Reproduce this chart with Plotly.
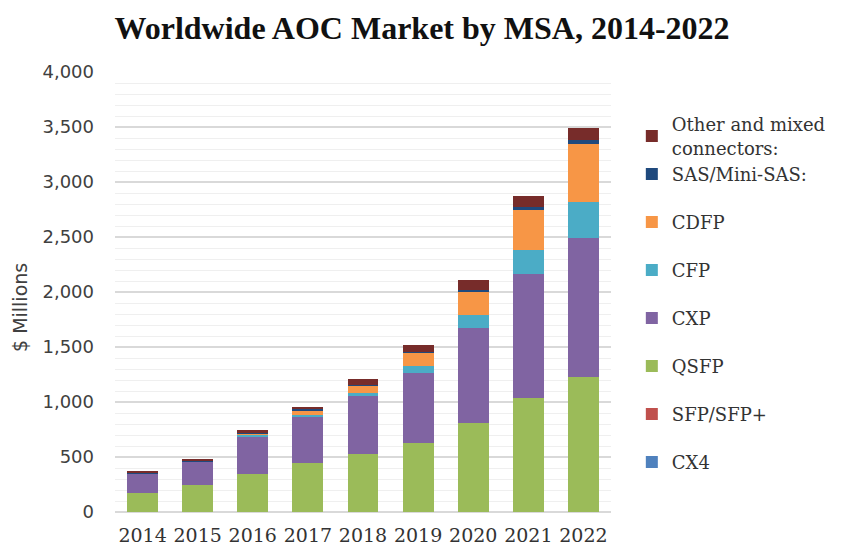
import plotly.graph_objects as go

years = ["2014", "2015", "2016", "2017", "2018", "2019", "2020", "2021", "2022"]

cx4 = [0, 0, 0, 0, 0, 0, 0, 0, 0]
sfp = [0, 0, 0, 0, 0, 0, 0, 0, 0]
qsfp = [176, 242, 348, 445, 527, 624, 812, 1033, 1224]
cxp = [176, 216, 337, 416, 528, 637, 858, 1131, 1270]
cfp = [0, 2, 18, 21, 24, 66, 121, 218, 327]
cdfp = [0, 2, 8, 45, 73, 121, 218, 363, 521]
sas = [3, 3, 6, 5, 7, 10, 10, 25, 40]
other = [12, 14, 28, 26, 50, 57, 90, 103, 112]

series = [
    ("CX4", cx4, "#4F81BD", "g1", 8),
    ("SFP/SFP+", sfp, "#C0504D", "g2", 7),
    ("QSFP", qsfp, "#9BBB59", "g3", 6),
    ("CXP", cxp, "#8064A2", "g4", 5),
    ("CFP", cfp, "#4BACC6", "g5", 4),
    ("CDFP", cdfp, "#F79646", "g6", 3),
    ("SAS/Mini-SAS:", sas, "#1F497D", "g7", 2),
    ("Other and mixed<br>connectors:", other, "#772C2A", "g7", 1),
]

fig = go.Figure()
for name, vals, color, grp, rank in series:
    fig.add_trace(go.Bar(
        x=years, y=vals, name=name, legendgroup=grp, legendrank=rank,
        marker=dict(color=color, line=dict(width=0)),
    ))

serif = "DejaVu Serif, serif"
title_serif = "Liberation Serif, serif"
sans = "DejaVu Sans, sans-serif"

L, T, PW, PH = 107, 64, 496, 440

fig.update_layout(
    width=862, height=551,
    barmode="stack", bargap=0.44,
    paper_bgcolor="white", plot_bgcolor="white",
    margin=dict(l=L, r=862 - L - PW, t=T, b=551 - T - PH, autoexpand=False),
    title=dict(
        text="<b>Worldwide AOC Market by MSA, 2014-2022</b>",
        x=(422 - 8) / 862, xanchor="center", xref="container",
        y=1 - 20 / 551, yanchor="middle", yref="container",
        font=dict(family=title_serif, size=32, color="#111111"),
    ),
    legend=dict(
        x=1.042, xanchor="left", y=(T + PH - 98) / PH, yanchor="top",
        traceorder="grouped", tracegroupgap=21.6,
        font=dict(family=serif, size=18, color="#333333"),
        bgcolor="rgba(0,0,0,0)",
    ),
    xaxis=dict(
        type="category", showgrid=False, showline=False, ticks="",
        tickfont=dict(family=serif, size=19, color="#333333"),
        ticklabelstandoff=10, automargin=False,
    ),
    yaxis=dict(
        range=[0, 4000], dtick=500, tickformat=",d",
        showgrid=True, gridcolor="#D9D9D9", gridwidth=1.5,
        zeroline=True, zerolinecolor="#D9D9D9", zerolinewidth=1.5,
        minor=dict(dtick=100, showgrid=True, gridcolor="#EFEFEF", gridwidth=1),
        tickfont=dict(family=sans, size=18, color="#404040"),
        ticklabelstandoff=20, automargin=False,
    ),
    annotations=[dict(
        text="$ Millions", textangle=-90,
        xref="paper", yref="paper",
        x=(12 - L) / PW, y=(T + PH - 300) / PH,
        xanchor="center", yanchor="middle", showarrow=False,
        font=dict(family=sans, size=19, color="#404040"),
    )],
)

fig.write_html("out.html")
